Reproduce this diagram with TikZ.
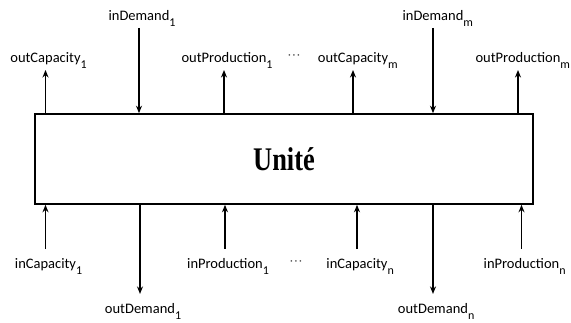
\documentclass[tikz,border=0pt]{standalone}
\usepackage{fontspec}
\setsansfont{Carlito}
\newfontfamily\unitfont{Liberation Serif}[FakeStretch=0.8]
\usetikzlibrary{arrows.meta}
\tikzset{
  >={Stealth[length=7.5pt,width=6pt]},
  port/.style={font=\sffamily\fontsize{14.5}{16}\selectfont, inner sep=0pt, outer sep=1pt, anchor=base},
  port below/.style={port, outer ysep=10pt},
  dots/.style={port, font=\sffamily\fontsize{11}{12}\selectfont, text=black!75},
  unit/.style={draw, line width=1.6pt, minimum width=498pt, minimum height=90pt,
    font=\unitfont\bfseries\fontsize{33}{36}\selectfont},
  flow/.style={line width=1.3pt}
}
\newcommand{\idx}[1]{\rlap{\raisebox{-6pt}{\fontsize{12}{12}\selectfont #1}}}

\begin{document}
\begin{tikzpicture}[x=1pt,y=1pt]
      \useasboundingbox (0,0) rectangle (571,323);
      \node[unit] (unit) at (284,164) {Unité};

      % upper side
      \node[port] (capOut1) at (45.5,260) {outCapacity\idx{1}};
      \node[port] (demIn1) at (139,302) {inDemand\idx{1}};
      \node[port] (prodOut1) at (224,260) {outProduction\idx{1}};
      \node[dots] (dotsUp) at (294,264) {·\,·\,·};
      \node[port] (capOutm) at (353,260) {outCapacity\idx{m}};
      \node[port] (demInm) at (433,302) {inDemand\idx{m}};
      \node[port] (prodOutm) at (518,260) {outProduction\idx{m}};

      % lower side
      \node[port below] (capIn1) at (45.5,54) {inCapacity\idx{1}};
      \node[port below] (demOut1) at (140,9) {outDemand\idx{1}};
      \node[port below] (prodIn1) at (225,54) {inProduction\idx{1}};
      \node[dots] (dotsDown) at (296,58) {·\,·\,·};
      \node[port below] (capInn) at (357,54) {inCapacity\idx{n}};
      \node[port below] (demOutn) at (433,9) {outDemand\idx{n}};
      \node[port below] (prodInn) at (521.5,54) {inProduction\idx{n}};

      \path[->, flow] (capOut1.south |- unit.north) edge (capOut1.south)
      (demIn1.south) edge (demIn1.south |- unit.north)
      (prodOut1.south |- unit.north) edge (prodOut1.south)
      (capOutm.south |- unit.north) edge (capOutm.south)
      (demInm.south) edge (demInm.south |- unit.north)
      (prodOutm.south |- unit.north) edge (prodOutm.south)
      (capIn1.north) edge (capIn1.north |- unit.south)
      (demOut1.north |- unit.south) edge (demOut1.north)
      (prodIn1.north) edge (prodIn1.north |- unit.south)
      (capInn.north) edge (capInn.north |- unit.south)
      (demOutn.north |- unit.south) edge (demOutn.north)
      (prodInn.north) edge (prodInn.north |- unit.south);
\end{tikzpicture}
\end{document}
